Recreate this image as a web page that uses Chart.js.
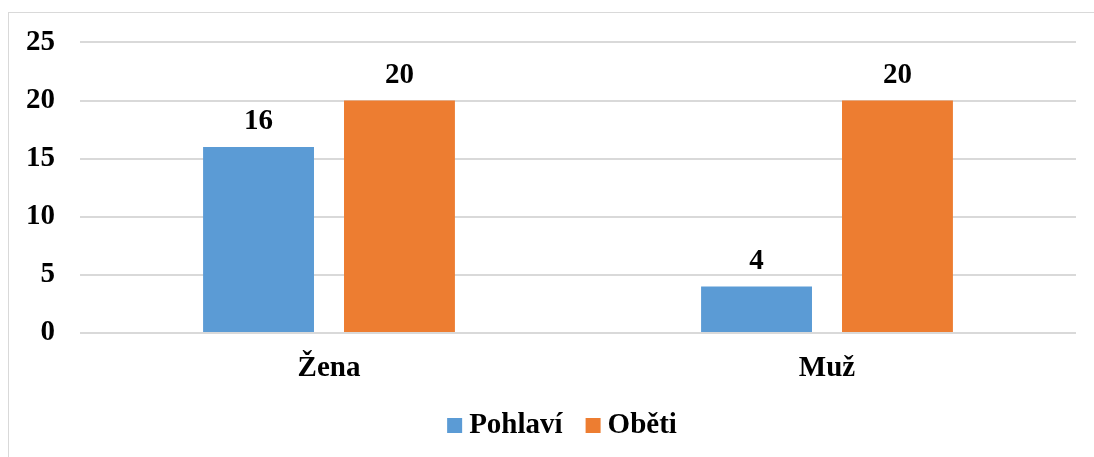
<!DOCTYPE html>
<html lang="cs">
<head>
  <meta charset="UTF-8" />
  <title>Pohlaví a oběti</title>
  <script src="https://cdn.jsdelivr.net/npm/chart.js"></script>
  <style>
    body {
      margin: 0;
      background: #ffffff;
      overflow: hidden;
    }
    .frame {
      position: absolute;
      left: 8px;
      top: 12px;
      width: 1200px;
      height: 600px;
      border: 1px solid #d9d9d9;
    }
    .chart-box {
      position: absolute;
      left: 0;
      top: 0;
      width: 1094px;
      height: 457px;
    }
  </style>
</head>
<body>
  <div class="frame"></div>
  <div class="chart-box">
    <canvas id="chart"></canvas>
  </div>

  <script>
    // data
    const categories = ['Žena', 'Muž'];
    const pohlavi = [16, 4];
    const obeti = [20, 20];
    const yTicks = [0, 5, 10, 15, 20, 25];

    const FONT = "'Liberation Serif', 'Times New Roman', serif";
    const BOLD = 'bold 29px ' + FONT;

    // values above the bars
    const barLabels = {
      id: 'barLabels',
      afterDatasetsDraw(chart) {
        const ctx = chart.ctx;
        ctx.save();
        ctx.font = BOLD;
        ctx.fillStyle = '#000000';
        ctx.textAlign = 'center';
        ctx.textBaseline = 'alphabetic';
        chart.data.datasets.forEach((ds, i) => {
          chart.getDatasetMeta(i).data.forEach((bar, j) => {
            ctx.fillText(ds.data[j], bar.x, bar.y - 18);
          });
        });
        ctx.restore();
      }
    };

    // legend drawn like the office one: small square, tight gap to the text
    const officeLegend = {
      id: 'officeLegend',
      afterDraw(chart) {
        const ctx = chart.ctx;
        const box = 15, gap = 7, itemGap = 23;
        ctx.save();
        ctx.font = BOLD;
        const items = chart.data.datasets.map(ds => ({
          text: ds.label,
          color: ds.backgroundColor,
          w: ctx.measureText(ds.label).width
        }));
        const total = items.reduce((s, it) => s + box + gap + it.w, 0) + itemGap * (items.length - 1);
        let x = 562 - total / 2;
        const baseline = 433;
        ctx.textBaseline = 'alphabetic';
        ctx.textAlign = 'left';
        items.forEach(it => {
          ctx.fillStyle = it.color;
          ctx.fillRect(x, baseline - box, box, box);
          x += box + gap;
          ctx.fillStyle = '#000000';
          ctx.fillText(it.text, x, baseline);
          x += it.w + itemGap;
        });
        ctx.restore();
      }
    };

    new Chart(document.getElementById('chart'), {
      type: 'bar',
      data: {
        labels: categories,
        datasets: [
          {
            label: 'Pohlaví',
            data: pohlavi,
            backgroundColor: '#5b9bd5',
            categoryPercentage: 0.566,
            barPercentage: 0.787
          },
          {
            label: 'Oběti',
            data: obeti,
            backgroundColor: '#ed7d31',
            categoryPercentage: 0.566,
            barPercentage: 0.787
          }
        ]
      },
      options: {
        responsive: true,
        maintainAspectRatio: false,
        animation: false,
        layout: {
          padding: { top: 42, right: 18, bottom: 58, left: 0 }
        },
        plugins: {
          legend: { display: false },
          tooltip: { enabled: false }
        },
        scales: {
          x: {
            grid: { display: false },
            border: { display: false },
            ticks: {
              color: '#000000',
              font: { family: FONT, size: 29, weight: 'bold' },
              padding: 10
            },
            afterFit: s => { s.height = 66; }
          },
          y: {
            min: 0,
            max: 25,
            border: { display: false },
            grid: { color: '#d9d9d9', lineWidth: 2, drawTicks: false },
            afterBuildTicks: s => { s.ticks = yTicks.map(v => ({ value: v })); },
            ticks: {
              color: '#000000',
              font: { family: FONT, size: 29, weight: 'bold' },
              padding: 25
            },
            afterFit: s => { s.width = 80; }
          }
        }
      },
      plugins: [barLabels, officeLegend]
    });
  </script>
</body>
</html>
